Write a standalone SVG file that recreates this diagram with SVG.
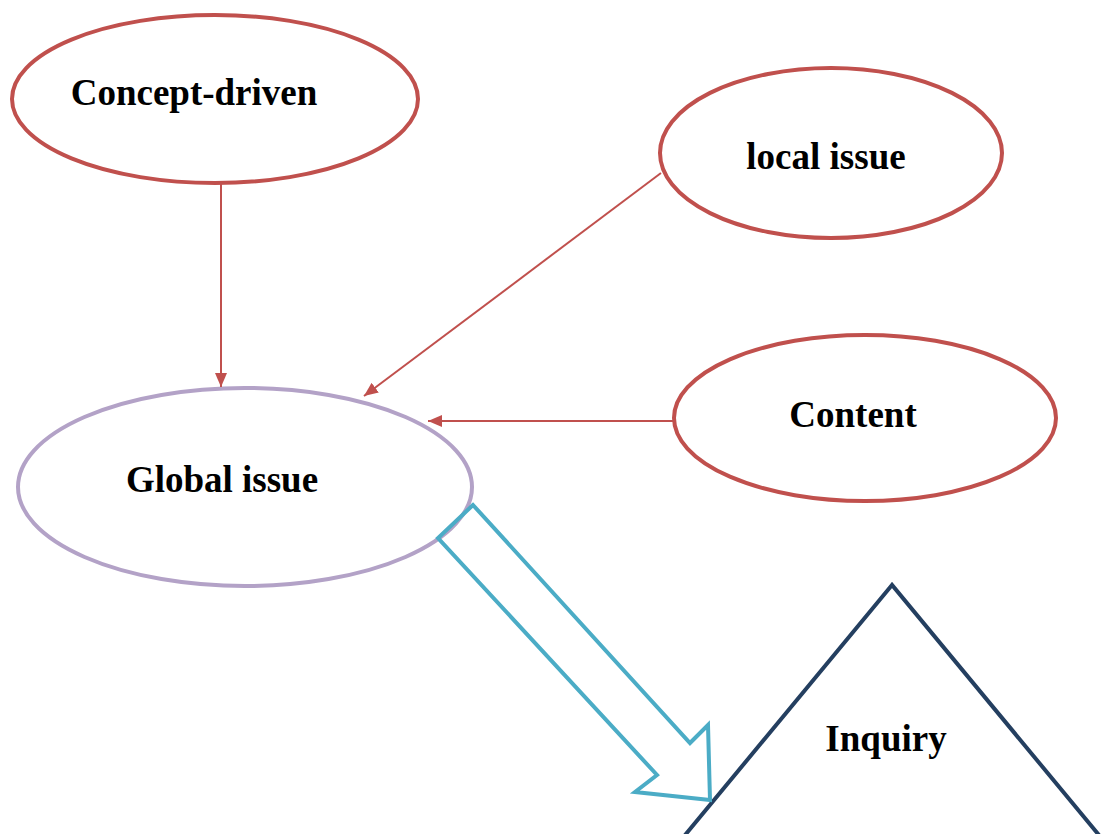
<svg xmlns="http://www.w3.org/2000/svg" width="1105" height="834" viewBox="0 0 1105 834">
<defs>
<style>
.red{fill:#fff;stroke:#C0504D;stroke-width:4}
.lbl{font-family:"Liberation Serif",serif;font-weight:bold;font-size:37px;fill:#000;text-anchor:middle}
.conn{stroke:#C0504D;stroke-width:2;fill:none}
</style>
<marker id="ah" viewBox="0 0 10 10" refX="10" refY="5" markerWidth="14" markerHeight="12" orient="auto" markerUnits="userSpaceOnUse" preserveAspectRatio="none">
<path d="M0,0 L10,5 L0,10 z" fill="#C0504D"/>
</marker>
</defs>
<rect width="1105" height="834" fill="#fff"/>
<g id="global-issue">
<ellipse cx="245" cy="487" rx="227" ry="99" fill="#fff" stroke="#B3A2C7" stroke-width="4"/>
<text class="lbl" x="222" y="492">Global issue</text>
</g>
<g id="concept-driven">
<ellipse class="red" cx="215" cy="99" rx="203" ry="84"/>
<text class="lbl" x="194" y="105">Concept-driven</text>
</g>
<g id="local-issue">
<ellipse class="red" cx="831" cy="153" rx="171" ry="85"/>
<text class="lbl" x="826" y="169">local issue</text>
</g>
<g id="content">
<ellipse class="red" cx="865" cy="418" rx="191" ry="83"/>
<text class="lbl" x="853" y="427">Content</text>
</g>
<g id="inquiry">
<polygon points="892,585 604,933 1180,933" fill="#fff" stroke="#243F60" stroke-width="4"/>
<text class="lbl" x="886" y="751">Inquiry</text>
</g>
<g id="connectors">
<line class="conn" x1="221" y1="184" x2="221" y2="387" marker-end="url(#ah)"/>
<line class="conn" x1="661" y1="173" x2="364" y2="396" marker-end="url(#ah)"/>
<line class="conn" x1="674" y1="421" x2="428" y2="421" marker-end="url(#ah)"/>
<polygon points="473,505 438,538 657,775 635,792 710,800 708,725 690,743" fill="none" stroke="#4BACC6" stroke-width="4"/>
</g>
</svg>
